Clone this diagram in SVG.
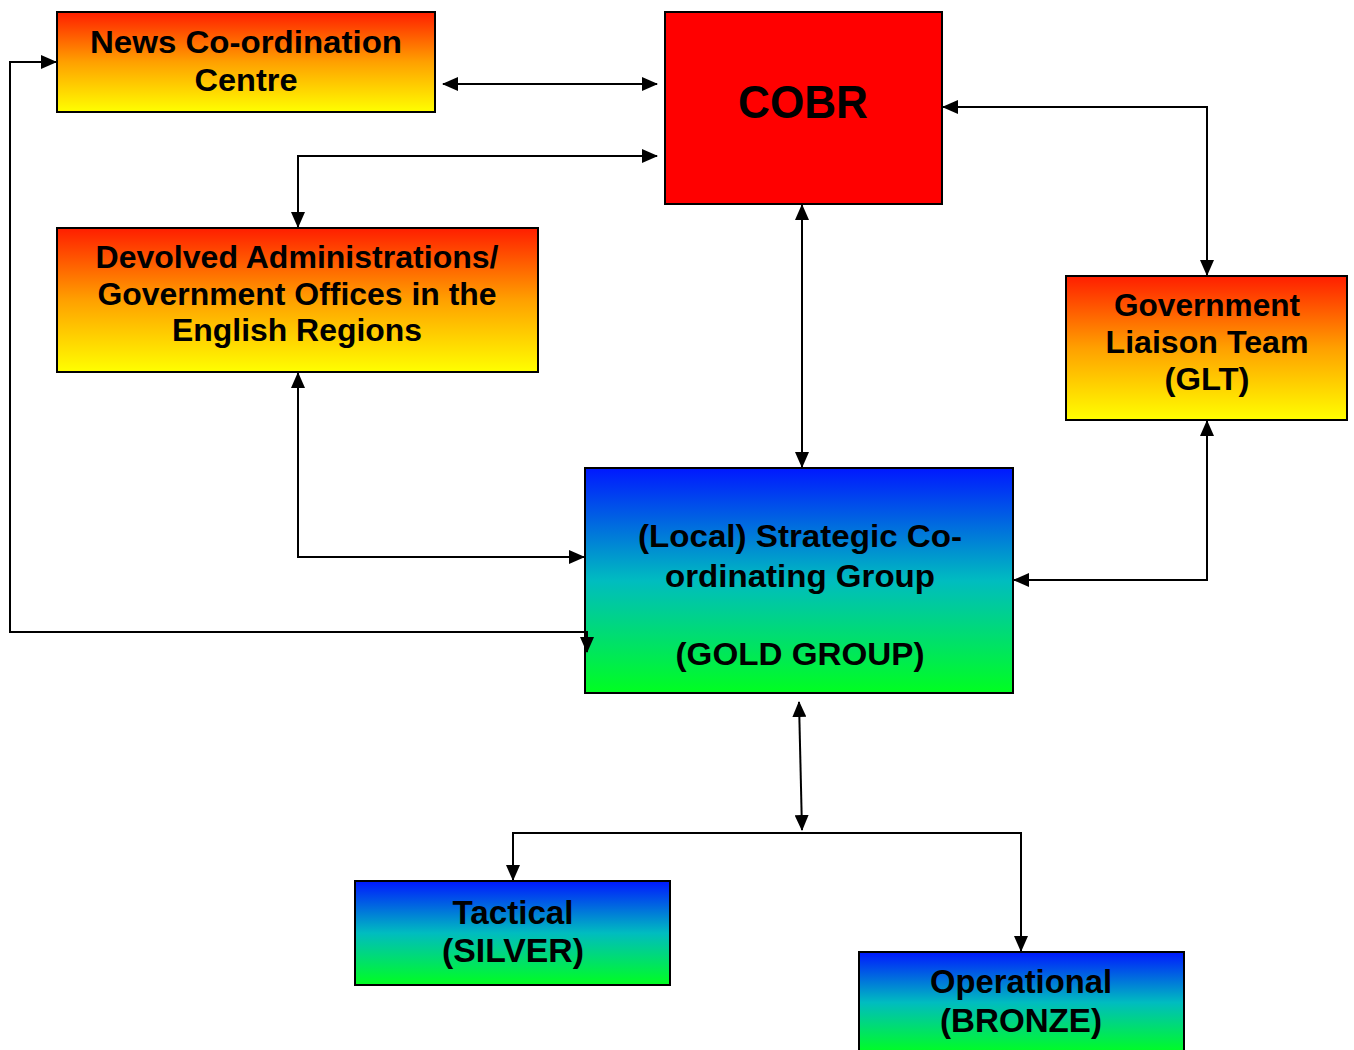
<svg xmlns="http://www.w3.org/2000/svg" width="1354" height="1050" viewBox="0 0 1354 1050">
<style>
.box{stroke:#000;stroke-width:2}
.t{font-family:"Liberation Sans",Arial,sans-serif;font-weight:bold;font-size:32px;fill:#000;text-anchor:middle}
.c{fill:none;stroke:#000;stroke-width:2}
</style>
<defs>
<linearGradient id="warm" x1="0" y1="0" x2="0" y2="1">
<stop offset="0" stop-color="#ff1e00"/>
<stop offset="0.5" stop-color="#ffa000"/>
<stop offset="1" stop-color="#ffff00"/>
</linearGradient>
<linearGradient id="cool" x1="0" y1="0" x2="0" y2="1">
<stop offset="0" stop-color="#0018ff"/>
<stop offset="0.5" stop-color="#00bcc0"/>
<stop offset="1" stop-color="#00ff20"/>
</linearGradient>
<marker id="ah" viewBox="0 0 16 14" refX="15" refY="7" markerWidth="16" markerHeight="14" markerUnits="userSpaceOnUse" orient="auto-start-reverse">
<path d="M0,0 L16,7 L0,14 Z" fill="#000"/>
</marker>
</defs>
<g id="news">
<rect class="box" x="57" y="12" width="378" height="100" fill="url(#warm)"/>
<text class="t" x="246" y="53" textLength="312" lengthAdjust="spacingAndGlyphs">News Co-ordination</text>
<text class="t" x="246" y="91" textLength="103" lengthAdjust="spacingAndGlyphs">Centre</text>
</g>
<g id="cobr">
<rect class="box" x="665" y="12" width="277" height="192" fill="#ff0000"/>
<text class="t" x="803" y="118" style="font-size:46px" textLength="130" lengthAdjust="spacingAndGlyphs">COBR</text>
</g>
<g id="devolved">
<rect class="box" x="57" y="228" width="481" height="144" fill="url(#warm)"/>
<text class="t" x="297" y="268" textLength="403" lengthAdjust="spacingAndGlyphs">Devolved Administrations/</text>
<text class="t" x="297" y="305" textLength="399" lengthAdjust="spacingAndGlyphs">Government Offices in the</text>
<text class="t" x="297" y="341" textLength="250" lengthAdjust="spacingAndGlyphs">English Regions</text>
</g>
<g id="glt">
<rect class="box" x="1066" y="276" width="281" height="144" fill="url(#warm)"/>
<text class="t" x="1207" y="316" textLength="186" lengthAdjust="spacingAndGlyphs">Government</text>
<text class="t" x="1207" y="353" textLength="203" lengthAdjust="spacingAndGlyphs">Liaison Team</text>
<text class="t" x="1207" y="390" textLength="85" lengthAdjust="spacingAndGlyphs">(GLT)</text>
</g>
<g id="gold">
<rect class="box" x="585" y="468" width="428" height="225" fill="url(#cool)"/>
<text class="t" x="800" y="547" textLength="324" lengthAdjust="spacingAndGlyphs">(Local) Strategic Co-</text>
<text class="t" x="800" y="587" textLength="270" lengthAdjust="spacingAndGlyphs">ordinating Group</text>
<text class="t" x="800" y="665" textLength="249" lengthAdjust="spacingAndGlyphs">(GOLD GROUP)</text>
</g>
<g id="silver">
<rect class="box" x="355" y="881" width="315" height="104" fill="url(#cool)"/>
<text class="t" x="513" y="924" style="font-size:33px" textLength="121" lengthAdjust="spacingAndGlyphs">Tactical</text>
<text class="t" x="513" y="962" style="font-size:33px" textLength="142" lengthAdjust="spacingAndGlyphs">(SILVER)</text>
</g>
<g id="bronze">
<rect class="box" x="859" y="952" width="325" height="101" fill="url(#cool)"/>
<text class="t" x="1021" y="993" style="font-size:33px" textLength="182" lengthAdjust="spacingAndGlyphs">Operational</text>
<text class="t" x="1021" y="1032" style="font-size:33px" textLength="162" lengthAdjust="spacingAndGlyphs">(BRONZE)</text>
</g>
<g id="connectors">
<path class="c" d="M443,84 L657,84" marker-start="url(#ah)" marker-end="url(#ah)"/>
<path class="c" d="M657,156 L298,156 L298,227" marker-start="url(#ah)" marker-end="url(#ah)"/>
<path class="c" d="M943,107 L1207,107 L1207,275" marker-start="url(#ah)" marker-end="url(#ah)"/>
<path class="c" d="M802,205 L802,467" marker-start="url(#ah)" marker-end="url(#ah)"/>
<path class="c" d="M298,373 L298,557 L584,557" marker-start="url(#ah)" marker-end="url(#ah)"/>
<path class="c" d="M1207,421 L1207,580 L1014,580" marker-start="url(#ah)" marker-end="url(#ah)"/>
<path class="c" d="M587,652 L587,632 L10,632 L10,62 L56,62" marker-start="url(#ah)" marker-end="url(#ah)"/>
<path class="c" d="M799,702 L802,830" marker-start="url(#ah)" marker-end="url(#ah)"/>
<path class="c" d="M513,880 L513,833 L1021,833 L1021,951" marker-start="url(#ah)" marker-end="url(#ah)"/>
</g>
</svg>
